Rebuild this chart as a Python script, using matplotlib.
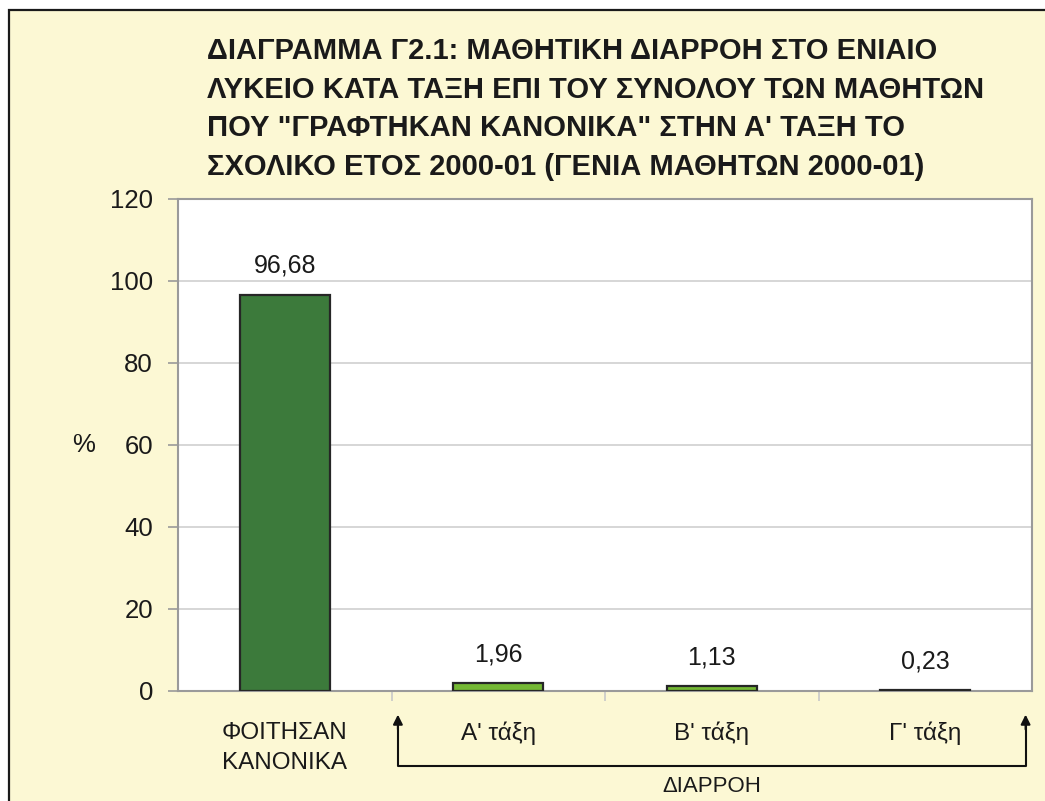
import matplotlib
matplotlib.use('Agg')
import matplotlib.pyplot as plt
from matplotlib.patches import Rectangle
import matplotlib.transforms as mtransforms

categories = ['ΦΟΙΤΗΣΑΝ\nΚΑΝΟΝΙΚΑ', "Α' τάξη", "Β' τάξη", "Γ' τάξη"]
values = [96.68, 1.96, 1.13, 0.23]
value_labels = ['96,68', '1,96', '1,13', '0,23']
bar_colors = ['#3c7a3b', '#74b834', '#74b834', '#74b834']
yticks = [0, 20, 40, 60, 80, 100, 120]
title = ('ΔΙΑΓΡΑΜΜΑ Γ2.1: ΜΑΘΗΤΙΚΗ ΔΙΑΡΡΟΗ ΣΤΟ ΕΝΙΑΙΟ\n'
         'ΛΥΚΕΙΟ ΚΑΤΑ ΤΑΞΗ ΕΠΙ ΤΟΥ ΣΥΝΟΛΟΥ ΤΩΝ ΜΑΘΗΤΩΝ\n'
         'ΠΟΥ "ΓΡΑΦΤΗΚΑΝ ΚΑΝΟΝΙΚΑ" ΣΤΗΝ Α\' ΤΑΞΗ ΤΟ\n'
         'ΣΧΟΛΙΚΟ ΕΤΟΣ 2000-01 (ΓΕΝΙΑ ΜΑΘΗΤΩΝ 2000-01)')
bracket_label = 'ΔΙΑΡΡΟΗ'

plt.rcParams['font.family'] = ['Liberation Sans', 'DejaVu Sans']

bg = '#fcf8d4'
fig = plt.figure(figsize=(10.45, 8.01), dpi=100)
fig.patch.set_facecolor('white')

# yellow panel with dark border (runs off the right/bottom edges)
fig.patches.append(Rectangle((9 / 1045, -0.05), 1.1, 1 - 10 / 801 + 0.05,
                             transform=fig.transFigure, facecolor=bg,
                             edgecolor='#1a1a1a', linewidth=1.6, zorder=-5))

ax = fig.add_axes([178 / 1045, 110 / 801, 854 / 1045, 492 / 801])
ax.set_facecolor('white')

x = range(len(categories))
ax.bar(x, values, width=0.42, color=bar_colors, edgecolor='#262626',
       linewidth=1.6, zorder=3)

for i, (v, lab) in enumerate(zip(values, value_labels)):
    ax.annotate(lab, (i, v), xytext=(0, 12), textcoords='offset points',
                ha='center', va='bottom', fontsize=18, color='#1a1a1a')

ax.set_xlim(-0.5, len(categories) - 0.5)
ax.set_ylim(0, 120)
ax.set_yticks(yticks)
ax.yaxis.grid(True, color='#cfcfcf', linewidth=1.2, zorder=0)
ax.set_axisbelow(True)

for s in ax.spines.values():
    s.set_color('#9a9a9a')
    s.set_linewidth(1.5)

ax.tick_params(axis='y', length=7, width=1.2, color='#9a9a9a', pad=11,
               labelsize=18.5, labelcolor='#1a1a1a')
ax.set_xticks([i + 0.5 for i in range(len(categories) - 1)])
ax.set_xticklabels([])
ax.tick_params(axis='x', length=7, width=1.2, color='#c8c8c8', direction='out')

# category labels
for i, c in enumerate(categories):
    ax.text(i, -0.063, c, transform=ax.get_xaxis_transform(), ha='center',
            va='top', fontsize=17.5, color='#1a1a1a', linespacing=1.45)

ax.text(-0.11, 0.5, '%', transform=ax.transAxes, ha='center', va='center',
        fontsize=18.5, color='#1a1a1a')

# bracket for the dropout categories
tr = mtransforms.blended_transform_factory(ax.transData, ax.transAxes)
x0, x1 = 0.53, 3.47
y_top, y_bot = -0.048, -0.152
ax.plot([x0, x0, x1, x1], [y_top - 0.02, y_bot, y_bot, y_top - 0.02],
        transform=tr, color='#111111', linewidth=1.5, clip_on=False)
for xx in (x0, x1):
    ax.annotate('', xy=(xx, y_top), xycoords=tr, xytext=(xx, y_top - 0.03),
                textcoords=tr,
                arrowprops=dict(arrowstyle='-|>', color='#111111', lw=1.5,
                                mutation_scale=14, shrinkA=0, shrinkB=0))
ax.text(2.0, y_bot - 0.02, bracket_label, transform=tr, ha='center',
        va='top', fontsize=16, color='#1a1a1a')

fig.text(207 / 1045, 1 - 37 / 801, title, ha='left', va='top', fontsize=21,
         fontweight='bold', color='#1a1a1a', linespacing=1.48)

fig.savefig('out.png', dpi=100)
